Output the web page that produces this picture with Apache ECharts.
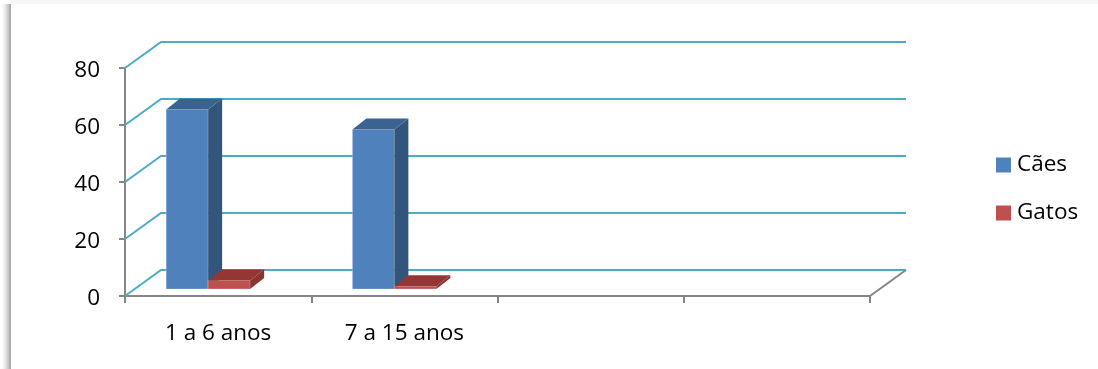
<!DOCTYPE html>
<html>
<head>
<meta charset="utf-8">
<script src="https://cdn.jsdelivr.net/npm/echarts@6/dist/echarts.min.js"></script>
<style>
html,body{margin:0;padding:0;background:#fff;}
#c{width:1098px;height:369px;}
</style>
</head>
<body>
<div id="c"></div>
<script>
// ---- data ----
var categories = ["1 a 6 anos", "7 a 15 anos", "", ""];
var caes = [63, 56, null, null];
var gatos = [3, 1, null, null];
var yTicks = [0, 20, 40, 60, 80];
var seriesNames = ["Cães", "Gatos"];

// ---- style constants ----
var FONT = "Open Sans";
var DEPTH = [36, -26];        // back wall offset
var BAR_SHIFT = [-10, -7];    // bar position inside the depth
var BAR_DEPTH = [14, -11];    // bar thickness
var BAR_FRAC = 0.2255;        // bar width as a fraction of band

var chart = echarts.init(document.getElementById('c'), null, {renderer: 'canvas'});

function barRenderer(slot, front, top, side) {
  return function (params, api) {
    var i = api.value(0), v = api.value(1);
    if (v == null || isNaN(v)) return;
    var base = api.coord([i, 0]);
    var tp = api.coord([i, v]);
    var bw = api.size([1, 0])[0] * BAR_FRAC;
    var cx = base[0] + BAR_SHIFT[0];
    var yb = base[1] + BAR_SHIFT[1];
    var yt = tp[1] + BAR_SHIFT[1];
    var x0 = slot === 0 ? cx - bw : cx;
    var x1 = x0 + bw;
    var dx = BAR_DEPTH[0], dy = BAR_DEPTH[1];
    return {
      type: 'group',
      children: [
        {type: 'polygon', shape: {points: [[x0, yb], [x1, yb], [x1, yt], [x0, yt]]},
          style: {fill: front, stroke: 'rgba(255,255,255,0.35)', lineWidth: 0.8}},
        {type: 'polygon', shape: {points: [[x1, yb], [x1 + dx, yb + dy], [x1 + dx, yt + dy], [x1, yt]]},
          style: {fill: side}},
        {type: 'polygon', shape: {points: [[x0, yt], [x1, yt], [x1 + dx, yt + dy], [x0 + dx, yt + dy]]},
          style: {fill: top}}
      ]
    };
  };
}

var option = {
  backgroundColor: '#ffffff',
  animation: false,
  textStyle: {fontFamily: FONT},
  graphic: [
    {type: 'rect', shape: {x: 0, y: 4, width: 11, height: 365},
      style: {fill: new echarts.graphic.LinearGradient(0, 0, 1, 0, [
        {offset: 0, color: 'rgba(255,255,255,0)'},
        {offset: 0.6, color: 'rgba(200,200,200,0.7)'},
        {offset: 1, color: 'rgba(160,160,160,1)'}])}, z: 0},
    {type: 'rect', shape: {x: 11, y: 0, width: 1087, height: 4},
      style: {fill: '#f6f6f6'}, z: 0}
  ],
  grid: {left: 125, right: 228, top: 68, bottom: 73},
  legend: {
    orient: 'vertical', left: 996, top: 153, padding: 0,
    itemWidth: 15, itemHeight: 15, itemGap: 24, icon: 'rect',
    textStyle: {fontFamily: FONT, fontSize: 22.5, color: '#000', lineHeight: 24, padding: [0, 0, 0, 1]},
    data: seriesNames
  },
  xAxis: {
    type: 'category', data: categories, boundaryGap: true,
    axisLine: {lineStyle: {color: '#868686', width: 2}},
    axisTick: {show: true, length: 7, lineStyle: {color: '#868686', width: 2}},
    axisLabel: {fontFamily: FONT, fontSize: 22.5, color: '#000', margin: 26},
    splitLine: {show: false}
  },
  yAxis: {
    type: 'value', min: 0, max: 80, interval: 20,
    axisLine: {show: true, lineStyle: {color: '#868686', width: 2}},
    axisTick: {show: true, length: 6, lineStyle: {color: '#868686', width: 2}},
    axisLabel: {fontFamily: FONT, fontSize: 22.5, color: '#000', margin: 25,
      verticalAlign: 'top', lineHeight: 6},
    splitLine: {show: false}
  },
  series: [
    {
      name: 'frame', type: 'custom', silent: true, z: 1, legendHoverLink: false,
      data: yTicks.map(function (t) { return [0, t]; }),
      renderItem: function (params, api) {
        var t = api.value(1);
        var n = categories.length;
        var bw = api.size([1, 0])[0];
        var L = api.coord([0, t]); L[0] -= bw / 2;
        var R = api.coord([n - 1, t]); R[0] += bw / 2;
        var children = [
          {type: 'polyline', shape: {points: [[L[0], L[1]], [L[0] + DEPTH[0], L[1] + DEPTH[1]], [R[0] + DEPTH[0], R[1] + DEPTH[1]]]},
            style: {stroke: '#4bacc6', lineWidth: 2, fill: null}}
        ];
        if (t === 0) {
          children.push({type: 'line', shape: {x1: R[0], y1: R[1], x2: R[0] + DEPTH[0], y2: R[1] + DEPTH[1]},
            style: {stroke: '#868686', lineWidth: 2}});
        }
        return {type: 'group', children: children};
      }
    },
    {
      name: seriesNames[0], type: 'custom', z: 3,
      itemStyle: {color: '#4f81bd'},
      data: caes.map(function (v, i) { return [i, v]; }),
      renderItem: barRenderer(0, '#4f81bd', '#3b6391', '#34557b')
    },
    {
      name: seriesNames[1], type: 'custom', z: 4,
      itemStyle: {color: '#c0504d'},
      data: gatos.map(function (v, i) { return [i, v]; }),
      renderItem: barRenderer(1, '#c0504d', '#933634', '#8a3331')
    }
  ]
};
chart.setOption(option);
</script>
</body>
</html>
